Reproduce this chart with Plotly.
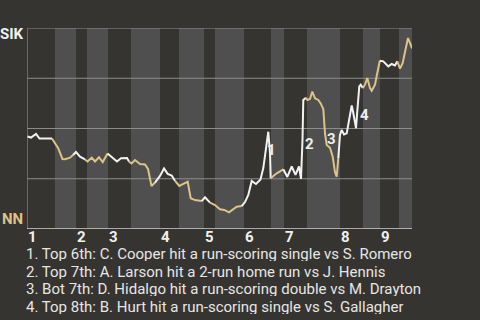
import plotly.graph_objects as go

# half-inning boundaries (event-position units); even index = top of inning start
half_bounds = [0, 28, 49, 60, 81, 104, 133, 152, 177, 188, 217, 244, 257, 280, 313, 336, 353, 372, 385]
inning_labels = ["1", "2", "3", "4", "5", "6", "7", "8", "9"]

# win probability for SIK (top = SIK, bottom = NN)
ev_x = [0.5, 4, 9, 12.5, 25, 28, 31.3, 35.5, 38, 43, 46, 49,
        53, 58, 60.5, 64.7, 68, 72, 75.7, 80.5,
        85.3, 90, 94, 100, 102, 104.5, 108, 113, 118, 121, 124.5, 128, 133,
        137, 140.7, 144.7, 148, 152.3, 156.3, 160.7, 163.7, 168, 174.7, 178,
        183, 188, 193, 197.3, 202, 205.3, 209.7, 214.7, 218,
        221.3, 224.7, 229, 233.5, 236.3, 239.5, 241.3, 243, 243.7,
        249.7, 256.3, 260.3, 264.7, 268.5, 272, 274, 275.5, 276.3, 279,
        280.3, 283, 285.3, 288, 291.3, 293.7, 296.3, 298, 299.7, 303, 305.7, 308, 309.7, 311.3,
        313, 314.7, 317, 319.7, 321.3, 324.7, 326.3, 329, 330.3, 332.3, 333.7, 335.8,
        338, 340.3, 343, 344.7, 348, 350.3, 352.8,
        356.3, 361.3, 364.7, 368, 370.3, 373, 375.7, 378, 381, 383.7, 385]
wp_sik = [0.460, 0.455, 0.473, 0.450, 0.450, 0.428, 0.401, 0.348, 0.347, 0.355, 0.368, 0.383,
          0.360, 0.346, 0.336, 0.355, 0.336, 0.357, 0.333, 0.376,
          0.356, 0.336, 0.352, 0.353, 0.336, 0.326, 0.343, 0.323, 0.321, 0.299, 0.214, 0.231, 0.264,
          0.301, 0.274, 0.266, 0.240, 0.214, 0.224, 0.235, 0.153, 0.144, 0.139, 0.158,
          0.131, 0.119, 0.098, 0.095, 0.083, 0.095, 0.111, 0.114, 0.134,
          0.169, 0.239, 0.224, 0.246, 0.303, 0.428, 0.484, 0.378, 0.252,
          0.277, 0.297, 0.259, 0.311, 0.269, 0.311, 0.249, 0.443, 0.642, 0.653,
          0.642, 0.647, 0.684, 0.650, 0.642, 0.625, 0.597, 0.476, 0.418, 0.404, 0.360, 0.282, 0.260, 0.352,
          0.468, 0.493, 0.470, 0.476, 0.526, 0.615, 0.577, 0.502, 0.586, 0.710, 0.718, 0.701,
          0.718, 0.751, 0.701, 0.688, 0.718, 0.776, 0.837,
          0.834, 0.809, 0.821, 0.814, 0.834, 0.798, 0.826, 0.884, 0.950, 0.917, 0.898]

# key events
key_ids = ["1", "2", "3", "4"]
key_x = [244.7, 282, 304.7, 337]
key_wp = [0.393, 0.421, 0.448, 0.566]
key_text = [
    "1. Top 6th: C. Cooper hit a run-scoring single vs S. Romero",
    "2. Top 7th: A. Larson hit a 2-run home run vs J. Hennis",
    "3. Bot 7th: D. Hidalgo hit a run-scoring double vs M. Drayton",
    "4. Top 8th: B. Hurt hit a run-scoring single vs S. Gallagher",
]

BG = "#363430"
BAND = "#4f4f4f"
GRID = "#8c8c8c"
AWAY = "#f2f2f2"
HOME = "#dcc38a"
FONT = "Roboto"

fig = go.Figure()

shapes = []
for i in range(len(half_bounds) - 1):
    if i % 2 == 1:
        shapes.append(dict(type="rect", xref="x", yref="y", x0=half_bounds[i], x1=half_bounds[i + 1],
                           y0=0, y1=1, fillcolor=BAND, line_width=0, layer="below"))
for g in [0.25, 0.5, 0.75, 1.0]:
    shapes.append(dict(type="line", xref="x", yref="y", x0=0, x1=half_bounds[-1], y0=g, y1=g,
                       line=dict(color=GRID, width=1.2), layer="below"))
shapes.append(dict(type="line", xref="x", yref="y", x0=0, x1=0, y0=0, y1=1,
                   line=dict(color=GRID, width=1.2), layer="below"))
shapes.append(dict(type="line", xref="x", yref="y", x0=0, x1=half_bounds[-1], y0=0, y1=0,
                   line=dict(color="#d0d0d0", width=1.5), layer="above"))

# split line into half-inning segments
prev = None
for i in range(len(half_bounds) - 1):
    lo, hi = half_bounds[i], half_bounds[i + 1]
    xs, ys = [], []
    if prev is not None:
        xs.append(prev[0]); ys.append(prev[1])
    for x, y in zip(ev_x, wp_sik):
        if (lo <= x < hi) or (i == len(half_bounds) - 2 and x == hi):
            xs.append(x); ys.append(y)
    if len(xs) > 0:
        prev = (xs[-1], ys[-1])
    fig.add_trace(go.Scatter(x=xs, y=ys, mode="lines",
                             line=dict(color=AWAY if i % 2 == 0 else HOME, width=2),
                             hoverinfo="skip", showlegend=False))

ann = []
for k, x, y in zip(key_ids, key_x, key_wp):
    ann.append(dict(x=x, y=y, xref="x", yref="y", text=k, showarrow=False,
                    font=dict(family=FONT, size=15, color="#eeeeee", weight="bold")))
for j, lab in enumerate(inning_labels):
    ann.append(dict(x=half_bounds[2 * j], y=-0.038, xref="x", yref="paper", text=lab,
                    showarrow=False, xanchor="left", yanchor="middle", xshift=0,
                    height=12, borderpad=0, valign="middle",
                    font=dict(family=FONT, size=15, color="#f0f0f0", weight="bold")))
ann.append(dict(x=0, y=0.97, xref="paper", yref="paper", text="SIK", showarrow=False,
                xanchor="right", yanchor="middle", xshift=-1,
                font=dict(family=FONT, size=15, color="#f0f0f0", weight="bold")))
ann.append(dict(x=0, y=0.05, xref="paper", yref="paper", text="NN", showarrow=False,
                xanchor="right", yanchor="middle", xshift=-2,
                font=dict(family=FONT, size=15, color=HOME, weight="bold")))
for j, t in enumerate(key_text):
    ann.append(dict(x=0, y=-0.123 - j * 0.0885, xref="paper", yref="paper", text=t,
                    showarrow=False, xanchor="left", yanchor="middle", xshift=-2,
                    height=14, borderpad=0, valign="middle",
                    font=dict(family=FONT, size=15, color="#e6e6e6")))

fig.update_layout(
    width=480, height=320,
    margin=dict(l=27, r=68, t=28, b=91),
    paper_bgcolor=BG, plot_bgcolor=BG,
    xaxis=dict(range=[0, half_bounds[-1]], showgrid=False, zeroline=False, showticklabels=False,
               fixedrange=True),
    yaxis=dict(range=[0, 1], showgrid=False, zeroline=False, showticklabels=False, fixedrange=True),
    shapes=shapes, annotations=ann,
)

fig.write_html("out.html", config={"displayModeBar": False})
